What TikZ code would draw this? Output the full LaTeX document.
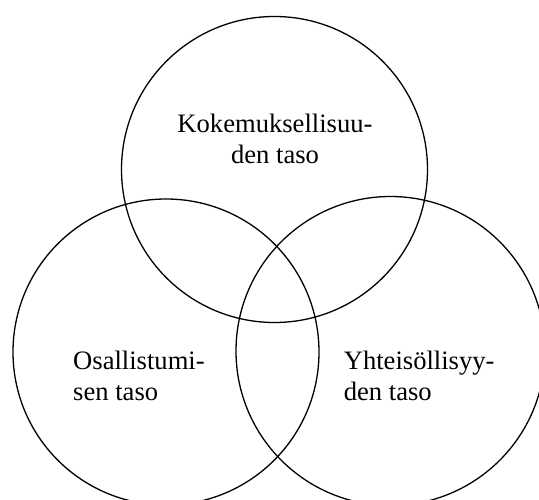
\documentclass[tikz,border=0pt]{standalone}
\usepackage{fontspec}
\setmainfont{Liberation Serif}
\begin{document}
\begin{tikzpicture}[x=1pt,y=-1pt,
  ring/.style={draw=black,line width=1.3pt,circle,inner sep=0pt,minimum size=306pt},
  lbl/.style={inner sep=0pt,font=\fontsize{26.6}{30.5}\selectfont}]
\useasboundingbox (0,0) rectangle (539,500);
\node[ring] (top) at (274.5,169.5) {};
\node[ring] (left) at (166,352) {};
\node[ring,minimum size=309pt] (right) at (390.5,351) {};
\node[lbl,anchor=base] (t1) at (275,133) {Kokemuksellisuu-};
\node[lbl,anchor=base] (t2) at (275,164) {den taso};
\node[lbl,anchor=base west] (l1) at (73,370) {Osallistumi-};
\node[lbl,anchor=base west] (l2) at (73,400) {sen taso};
\node[lbl,anchor=base west] (r1) at (343.6,370) {Yhteisöllisyy-};
\node[lbl,anchor=base west] (r2) at (343.6,400) {den taso};
\end{tikzpicture}
\end{document}
